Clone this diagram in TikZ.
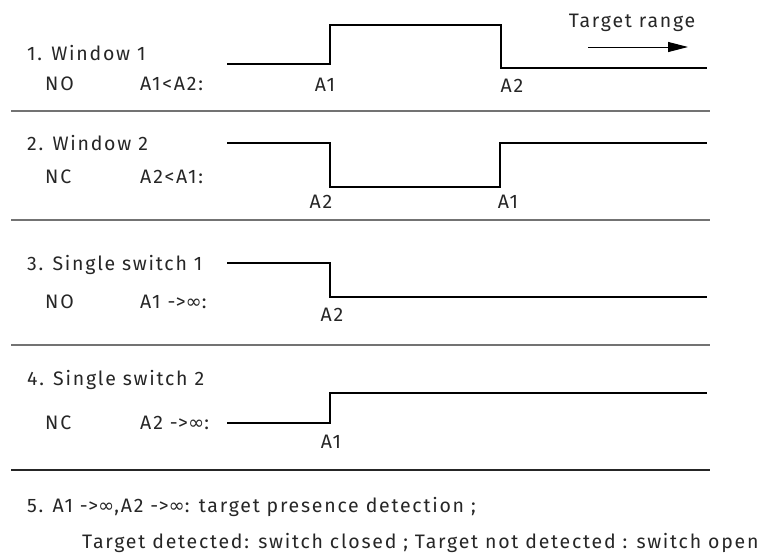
\documentclass[tikz,border=0pt]{standalone}
\usepackage{fontspec}
\setmainfont{Fira Sans}[LetterSpace=9]
\newfontfamily\symfont{DejaVu Sans}
\usetikzlibrary{arrows.meta}
\newcommand{\inff}{{\symfont ∞}}
\tikzset{
  wave/.style={line width=1.6pt, black},
  sep/.style={line width=1.1pt, black!55},
  txt/.style={inner sep=0pt, font=\fontsize{19.5}{23}\selectfont, text=black!85},
  lbl/.style={txt, anchor=west},
  tick/.style={txt, anchor=center}
}
\begin{document}
\begin{tikzpicture}[x=1pt,y=-1pt]
\useasboundingbox (0,0) rectangle (775,557);
% row 1
\node[lbl] (t1) at (27,53) {1. Window 1};
\node[lbl] (m1) at (45,84) {NO};
\node[lbl] (c1) at (140,84) {A1<A2:};
\coordinate (w1a) at (227,64);
\coordinate (w1b) at (330,64);
\coordinate (w1c) at (330,25);
\coordinate (w1d) at (501,25);
\coordinate (w1e) at (501,68);
\coordinate (w1f) at (707,68);
\draw[wave] (w1a) -- (w1b) -- (w1c) -- (w1d) -- (w1e) -- (w1f);
\node[tick] (a11) at (325,85) {A1};
\node[tick] (a12) at (512,86) {A2};
\node[tick] (tr) at (632,23) {Target range};
\coordinate (ar1) at (588,47);
\coordinate (ar2) at (688,47);
\draw[line width=1pt, -{Triangle[length=20pt,width=10pt]}] (ar1) -- (ar2);
\coordinate (s1a) at (11,111);
\coordinate (s1b) at (710,111);
\draw[sep] (s1a) -- (s1b);
% row 2
\node[lbl] (t2) at (27,143) {2. Window 2};
\node[lbl] (m2) at (45,177) {NC};
\node[lbl] (c2) at (140,177) {A2<A1:};
\coordinate (w2a) at (227,143);
\coordinate (w2b) at (330,143);
\coordinate (w2c) at (330,187);
\coordinate (w2d) at (500,187);
\coordinate (w2e) at (500,143);
\coordinate (w2f) at (707,143);
\draw[wave] (w2a) -- (w2b) -- (w2c) -- (w2d) -- (w2e) -- (w2f);
\node[tick] (a22) at (321,202) {A2};
\node[tick] (a21) at (508,202) {A1};
\coordinate (s2a) at (11,220);
\coordinate (s2b) at (710,220);
\draw[sep] (s2a) -- (s2b);
% row 3
\node[lbl] (t3) at (27,265) {3. Single switch 1};
\node[lbl] (m3) at (45,302) {NO};
\node[lbl] (c3) at (140,302) {A1 -\kern0.5pt>\inff:};
\coordinate (w3a) at (227,263);
\coordinate (w3b) at (330,263);
\coordinate (w3c) at (330,297);
\coordinate (w3f) at (707,297);
\draw[wave] (w3a) -- (w3b) -- (w3c) -- (w3f);
\node[tick] (a32) at (332,315) {A2};
\coordinate (s3a) at (11,345);
\coordinate (s3b) at (710,345);
\draw[sep] (s3a) -- (s3b);
% row 4
\node[lbl] (t4) at (27,380) {4. Single switch 2};
\node[lbl] (m4) at (45,423) {NC};
\node[lbl] (c4) at (140,423) {A2 -\kern0.5pt>\inff:};
\coordinate (w4a) at (227,423);
\coordinate (w4b) at (330,423);
\coordinate (w4c) at (330,393);
\coordinate (w4f) at (707,393);
\draw[wave] (w4a) -- (w4b) -- (w4c) -- (w4f);
\node[tick] (a41) at (331,442) {A1};
\coordinate (s4a) at (11,470);
\coordinate (s4b) at (710,470);
\draw[line width=1.1pt, black!85] (s4a) -- (s4b);
% note
\node[lbl] (n1) at (27,507) {5. A1 -\kern0.5pt>\inff,A2 -\kern0.5pt>\inff: target presence detection ;};
\node[lbl] (n2) at (82,543) {Target detected: switch closed ; Target not detected : switch open};
\end{tikzpicture}
\end{document}
